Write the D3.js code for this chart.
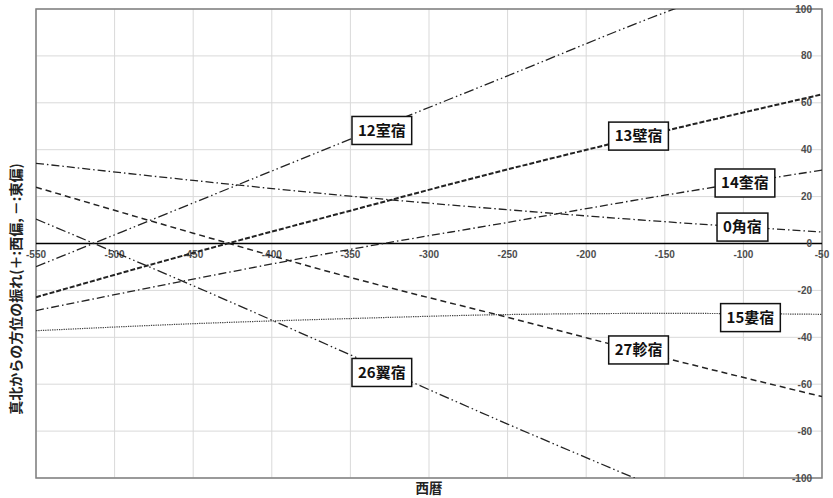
<!DOCTYPE html>
<html><head><meta charset="utf-8">
<script src="https://cdn.jsdelivr.net/npm/d3@7"></script>
<style>
html,body{margin:0;padding:0;background:#fff;}
svg{display:block;}
</style></head>
<body>
<svg id="chart" width="833" height="498"></svg>
<script>
// ---- data ----
const years = [-550, -450, -350, -250, -150, -50];
const seriesNames = ["0角宿", "12室宿", "13壁宿", "14奎宿", "15婁宿", "26翼宿", "27軫宿"];
const kaku   = [34.2, 26.9, 20.2, 14.4, 9.3, 4.9];
const shitsu = [-9.9, 17.3, 44.5, 71.5, 98.5, 122];
const heki   = [-22.9, -4.0, 14.0, 31.6, 48.0, 63.6];
const kei    = [-28.6, -15.2, -2.5, 9.0, 20.6, 31.3];
const rou    = [-37.2, -34.2, -32.0, -30.3, -29.8, -30.2];
const yoku   = [10.4, -18.0, -47.5, -77.0, -105.5, -134];
const shin   = [24.0, 4.4, -14.5, -31.5, -48.8, -65.3];
// label anchor positions (year, value) for each series
const labelYears  = [-100.6, -330, -166.7, -99, -95.5, -330, -166.7];
const labelValues = [7.0, 48.2, 45.8, 25.8, -31.6, -55.0, -45.4];
const xTicks = [-550, -500, -450, -400, -350, -300, -250, -200, -150, -100, -50];
const yTicks = [-100, -80, -60, -40, -20, 0, 20, 40, 60, 80, 100];
const xTitle = "西暦";
const yTitle = "真北からの方位の振れ(＋:西偏, －:東偏)";

// ---- styles ----
const seriesValues = [kaku, shitsu, heki, kei, rou, yoku, shin];
const styles = [
  {dash: "8 3 1.5 3", w: 1.3, c: "#222"},            // dash-dot
  {dash: "10 3 1.5 3 1.5 3", w: 1.3, c: "#222"},     // long dash dot dot
  {dash: "5 2", w: 2.0, c: "#222"},                  // dashed thick
  {dash: "8 3 1.5 3", w: 1.3, c: "#222"},            // dash-dot
  {dash: "1.3 1", w: 1.2, c: "#444"},                // dotted
  {dash: "10 3 1.5 3 1.5 3", w: 1.3, c: "#222"},     // long dash dot dot
  {dash: "6 4", w: 1.5, c: "#222"}                   // dashed
];

const svg = d3.select("#chart");
const L = 36, R = 822, T = 9, B = 478;
const x = d3.scaleLinear().domain([-550, -50]).range([L, R]);
const y = d3.scaleLinear().domain([-100, 100]).range([B, T]);

svg.append("defs").append("clipPath").attr("id", "clip")
  .append("rect").attr("x", L).attr("y", T).attr("width", R - L).attr("height", B - T);

// grid
const g = svg.append("g");
g.selectAll(".vg").data(xTicks).enter().append("line")
  .attr("x1", d => x(d)).attr("x2", d => x(d)).attr("y1", T).attr("y2", B)
  .attr("stroke", "#d9d9d9").attr("stroke-width", 1);
g.selectAll(".hg").data(yTicks).enter().append("line")
  .attr("x1", L).attr("x2", R).attr("y1", d => y(d)).attr("y2", d => y(d))
  .attr("stroke", "#d9d9d9").attr("stroke-width", 1);

// plot border
svg.append("rect").attr("x", L).attr("y", T).attr("width", R - L).attr("height", B - T)
  .attr("fill", "none").attr("stroke", "#7f7f7f").attr("stroke-width", 1.5);

// zero axis line
svg.append("line").attr("x1", L).attr("x2", R).attr("y1", y(0)).attr("y2", y(0))
  .attr("stroke", "#000").attr("stroke-width", 1.3);

// tick labels
const tickFont = "'Liberation Sans', Arial, sans-serif";
svg.append("g").selectAll("text").data(xTicks).enter().append("text")
  .attr("x", d => x(d)).attr("y", y(0) + 14)
  .attr("text-anchor", "middle")
  .attr("font-family", tickFont).attr("font-size", 10).attr("font-weight", "bold")
  .attr("fill", "#4d4d4d").text(d => d);
svg.append("g").selectAll("text").data(yTicks).enter().append("text")
  .attr("x", R - 10).attr("y", d => y(d)).attr("dy", "0.35em")
  .attr("text-anchor", "end")
  .attr("font-family", tickFont).attr("font-size", 10).attr("font-weight", "bold")
  .attr("fill", "#4d4d4d").text(d => d);

// lines
const line = d3.line().x((d, i) => x(years[i])).y(d => y(d)).curve(d3.curveMonotoneX);
const lg = svg.append("g").attr("clip-path", "url(#clip)");
seriesValues.forEach((vals, k) => {
  lg.append("path").datum(vals).attr("d", line)
    .attr("fill", "none").attr("stroke", styles[k].c)
    .attr("stroke-width", styles[k].w).attr("stroke-dasharray", styles[k].dash);
});

// labels
const labFont = "'Noto Sans CJK JP', 'Noto Sans', sans-serif";
seriesNames.forEach((name, k) => {
  const cx = x(labelYears[k]), cy = y(labelValues[k]);
  const lgk = svg.append("g");
  const t = lgk.append("text").attr("x", cx).attr("y", cy).attr("dy", "0.36em")
    .attr("text-anchor", "middle")
    .attr("font-family", labFont).attr("font-size", 15).attr("font-weight", "bold")
    .attr("fill", "#111").text(name);
  const bb = t.node().getBBox();
  lgk.insert("rect", "text")
    .attr("x", cx - bb.width / 2 - 6).attr("y", cy - 14)
    .attr("width", bb.width + 12).attr("height", 28)
    .attr("fill", "#fff").attr("stroke", "#111").attr("stroke-width", 1.5);
});

// axis titles
svg.append("text").attr("x", (L + R) / 2).attr("y", 493)
  .attr("text-anchor", "middle")
  .attr("font-family", labFont).attr("font-size", 13.5).attr("font-weight", "bold")
  .attr("fill", "#222").text(xTitle);
svg.append("text")
  .attr("transform", "translate(21,289) rotate(-90)")
  .attr("text-anchor", "middle")
  .attr("font-family", labFont).attr("font-size", 14).attr("font-weight", "bold")
  .attr("fill", "#222").text(yTitle);
</script>
</body></html>
